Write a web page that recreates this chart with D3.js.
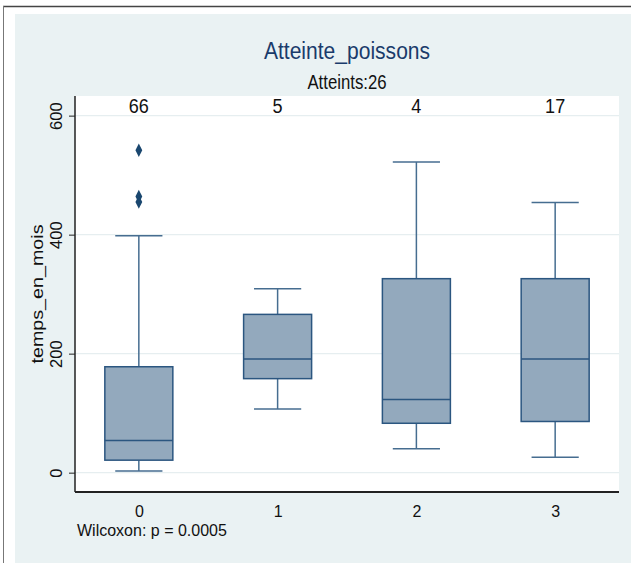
<!DOCTYPE html>
<html><head><meta charset="utf-8">
<script src="https://cdn.jsdelivr.net/npm/d3@7"></script>
<style>html,body{margin:0;padding:0;background:#fff;}svg{display:block;}</style>
</head><body>
<script>
const categories = ["0", "1", "2", "3"];
const counts = [66, 5, 4, 17];
const whiskerLow = [3, 107, 40, 26];
const q1 = [21, 158, 83, 86];
const median = [54, 191, 123, 191];
const q3 = [178, 266, 326, 326];
const whiskerHigh = [398, 309, 522, 454];
const outliers = [[542, 464, 455], [], [], []];
const yTicks = [0, 200, 400, 600];
const title = "Atteinte_poissons";
const subtitle = "Atteints:26";
const yTitle = "temps_en_mois";
const note = "Wilcoxon: p = 0.0005";

(function () {
const W = 631, H = 563;
const svg = d3.select("body").append("svg").attr("width", W).attr("height", H);
const font = "'Liberation Sans', Arial, sans-serif";

// frame
svg.append("rect").attr("x", 0).attr("y", 0).attr("width", W).attr("height", H).attr("fill", "#fff");
svg.append("rect").attr("x", 15).attr("y", 14).attr("width", W - 15).attr("height", H - 14).attr("fill", "#eaf2f3");
svg.append("line").attr("x1", 3).attr("x2", W).attr("y1", 6.5).attr("y2", 6.5).attr("stroke", "#444").attr("stroke-width", 1.5);
svg.append("line").attr("x1", 3.5).attr("x2", 3.5).attr("y1", 6).attr("y2", H).attr("stroke", "#777").attr("stroke-width", 1);

const pLeft = 75, pRight = 619, pTop = 96, pBottom = 492;
const x = d3.scaleLinear().domain([-0.46, 3.46]).range([pLeft, pRight]);
const y = d3.scaleLinear().domain([-32.5, 633]).range([pBottom, pTop]);

// plot region
svg.append("rect").attr("x", pLeft).attr("y", pTop).attr("width", pRight - pLeft).attr("height", pBottom - pTop).attr("fill", "#fff");

// grid
svg.append("g").selectAll("line").data(yTicks).join("line")
  .attr("x1", pLeft).attr("x2", pRight)
  .attr("y1", d => y(d)).attr("y2", d => y(d))
  .attr("stroke", "#e6eef0").attr("stroke-width", 1.2);

// y axis
const yAxis = d3.axisLeft(y).tickValues(yTicks).tickSize(6).tickPadding(4).tickFormat(d3.format("d"));
const gy = svg.append("g").attr("transform", `translate(${pLeft},0)`).call(yAxis);
gy.select(".domain").attr("d", `M0,${pTop}V${pBottom}`).attr("stroke", "#222").attr("stroke-width", 1.5);
gy.selectAll(".tick line").attr("stroke", "#222").attr("stroke-width", 1);
gy.selectAll(".tick text")
  .attr("font-family", font).attr("font-size", 16.5).attr("fill", "#111")
  .attr("transform", "rotate(-90)")
  .attr("x", 0).attr("y", -13).attr("dy", 0)
  .attr("text-anchor", "middle");

// x axis
const xAxis = d3.axisBottom(x).tickValues(d3.range(categories.length)).tickSize(0).tickPadding(14)
  .tickFormat(i => categories[i]);
const gx = svg.append("g").attr("transform", `translate(0,${pBottom})`).call(xAxis);
gx.select(".domain").attr("d", `M${pLeft},0H${pRight}`).attr("stroke", "#222").attr("stroke-width", 1.8);
gx.selectAll(".tick text").attr("font-family", font).attr("font-size", 16).attr("fill", "#111");

// boxes
const idx = d3.range(categories.length);
const bw = 0.245, cw = 0.17;
const whiskerColor = "#466d90", boxStroke = "#2b5680", boxFill = "#93a9bd";
const g = svg.append("g");
g.selectAll(".stemHi").data(idx).join("line")
  .attr("x1", i => x(i)).attr("x2", i => x(i))
  .attr("y1", i => y(q3[i])).attr("y2", i => y(whiskerHigh[i]))
  .attr("stroke", whiskerColor).attr("stroke-width", 1.5);
g.selectAll(".stemLo").data(idx).join("line")
  .attr("x1", i => x(i)).attr("x2", i => x(i))
  .attr("y1", i => y(q1[i])).attr("y2", i => y(whiskerLow[i]))
  .attr("stroke", whiskerColor).attr("stroke-width", 1.5);
g.selectAll(".capHi").data(idx).join("line")
  .attr("x1", i => x(i - cw)).attr("x2", i => x(i + cw))
  .attr("y1", i => y(whiskerHigh[i])).attr("y2", i => y(whiskerHigh[i]))
  .attr("stroke", whiskerColor).attr("stroke-width", 1.5);
g.selectAll(".capLo").data(idx).join("line")
  .attr("x1", i => x(i - cw)).attr("x2", i => x(i + cw))
  .attr("y1", i => y(whiskerLow[i])).attr("y2", i => y(whiskerLow[i]))
  .attr("stroke", whiskerColor).attr("stroke-width", 1.5);
g.selectAll(".box").data(idx).join("rect")
  .attr("x", i => x(i - bw)).attr("width", i => x(i + bw) - x(i - bw))
  .attr("y", i => y(q3[i])).attr("height", i => y(q1[i]) - y(q3[i]))
  .attr("fill", boxFill).attr("stroke", boxStroke).attr("stroke-width", 1.5);
g.selectAll(".med").data(idx).join("line")
  .attr("x1", i => x(i - bw)).attr("x2", i => x(i + bw))
  .attr("y1", i => y(median[i])).attr("y2", i => y(median[i]))
  .attr("stroke", boxStroke).attr("stroke-width", 1.5);
const outPts = idx.flatMap(i => outliers[i].map(v => ({ i, v })));
const diamond = d3.symbol().type(d3.symbolDiamond).size(40);
g.selectAll(".out").data(outPts).join("path")
  .attr("d", diamond)
  .attr("transform", d => `translate(${x(d.i)},${y(d.v)}) scale(1,1.15)`)
  .attr("fill", "#1a476f");

// counts
svg.append("g").selectAll("text").data(idx).join("text")
  .attr("transform", i => `translate(${x(i)},113) scale(0.86,1)`)
  .attr("text-anchor", "middle").attr("font-family", font).attr("font-size", 21).attr("fill", "#111")
  .text(i => counts[i]);

// titles
svg.append("text").attr("transform", `translate(${(pLeft + pRight) / 2},59) scale(0.86,1)`)
  .attr("text-anchor", "middle").attr("font-family", font).attr("font-size", 24.5).attr("fill", "#1a3b6b")
  .text(title);
svg.append("text").attr("transform", `translate(${(pLeft + pRight) / 2},89) scale(0.86,1)`)
  .attr("text-anchor", "middle").attr("font-family", font).attr("font-size", 19.5).attr("fill", "#111")
  .text(subtitle);

// y title
svg.append("text").attr("transform", `translate(43,${(pTop + pBottom) / 2}) rotate(-90)`)
  .attr("text-anchor", "middle").attr("font-family", font).attr("font-size", 17).attr("fill", "#111")
  .attr("textLength", 139).attr("lengthAdjust", "spacingAndGlyphs")
  .text(yTitle);

// note
svg.append("text").attr("x", 77).attr("y", 536)
  .attr("font-family", font).attr("font-size", 16).attr("fill", "#111")
  .text(note);
})();
</script>
</body></html>
